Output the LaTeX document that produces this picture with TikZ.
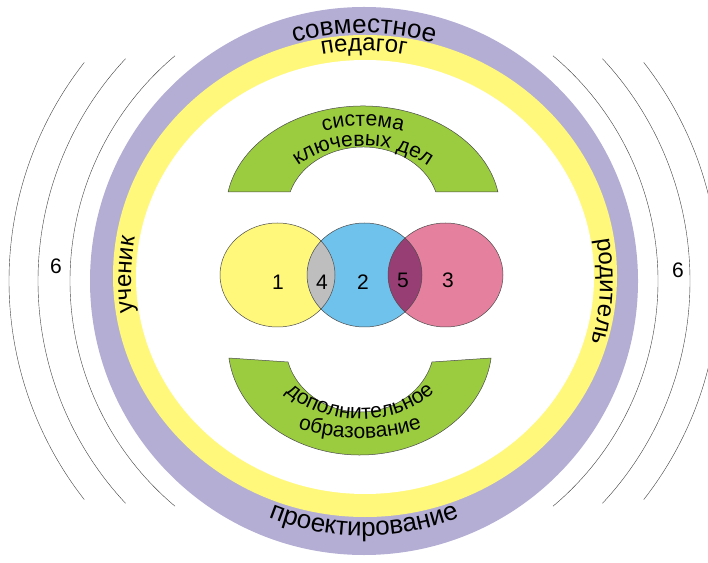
\documentclass[tikz,border=0pt]{standalone}
\usepackage{fontspec}
\setmainfont{Liberation Sans}
\usetikzlibrary{calc,decorations.text}
\definecolor{ringlilac}{HTML}{B4AED4}
\definecolor{ringyellow}{HTML}{FFF87A}
\definecolor{archgreen}{HTML}{9BCB3F}
\definecolor{vennblue}{HTML}{6FC2EC}
\definecolor{vennpink}{HTML}{E6809F}
\definecolor{venngray}{HTML}{BEBEBE}
\definecolor{vennplum}{HTML}{973F75}
\newcommand{\ringtxt}{\fontsize{26}{28}\selectfont}
\newcommand{\yellowtxt}{\fontsize{24}{26}\selectfont}
\newcommand{\archtxt}{\fontsize{21}{23}\selectfont}
\newcommand{\numtxt}{\fontsize{21}{23}\selectfont}

\begin{document}
\begin{tikzpicture}
[x=1pt,y=1pt,%
  every node/.style={inner sep=0pt,font=\numtxt},%
  wave/.style={draw=black!75,line width=0.4pt},%
  outline/.style={draw=black!70,line width=0.5pt},%
  ringcurved/.style={decorate,decoration={text along path,text align=center,text={|\ringtxt|#1}}},%
  yellowcurved/.style={decorate,decoration={text along path,text align=center,text={|\yellowtxt|#1}}},%
  archcurved/.style={decorate,decoration={text along path,text align=center,text={|\archtxt|#1}}}]
\useasboundingbox (0,0) rectangle (708,562);
\clip (0,0) rectangle (708,562);
\coordinate (mid) at (364,281);
\coordinate (top arch) at (363,352);
\coordinate (low arch) at (360,217);
\fill[ringlilac] (mid) circle[radius=274];
\fill[ringyellow] (365,286) ellipse[x radius=252,y radius=241];
\fill[white] (365,285) ellipse[x radius=229,y radius=217];
\foreach \r/\a in {294/50,326/43,355/38}{
  \draw[wave] (mid) ++(180-\a:\r) arc[start angle=180-\a,end angle=180+\a,radius=\r];
  \draw[wave] (mid) ++(-\a:\r) arc[start angle=-\a,end angle=\a,radius=\r];
}
\node (six left) at (56,296) {6};
\node (six right) at (678,292) {6};
\path[ringcurved=совместное] (mid) ++(125:248) arc[start angle=125,end angle=55,radius=248];
\path[yellowcurved=педагог] (mid) ++(120:230) arc[start angle=120,end angle=60,radius=230];
\path[ringcurved=проектирование] (mid) ++(220:255) arc[start angle=220,end angle=320,radius=255];
\path[yellowcurved=ученик] (mid) ++(203.5:233) arc[start angle=203.5,end angle=153.5,radius=233];
\path[yellowcurved=родитель] (mid) ++(25:236) arc[start angle=25,end angle=-30,radius=236];
\filldraw[outline,fill=archgreen] (top arch) ++(170:137 and 104)
  arc[start angle=170,end angle=10,x radius=137,y radius=104]
  -- ($(top arch)+(16.6:76 and 63)$)
  arc[start angle=16.6,end angle=163.4,x radius=76,y radius=63] -- cycle;
\filldraw[outline,fill=archgreen] (low arch) ++(186.8:132 and 110)
  arc[start angle=186.8,end angle=353.2,x radius=132,y radius=110]
  -- ($(low arch)+(345.3:74.4 and 67)$)
  arc[start angle=345.3,end angle=194.7,x radius=74.4,y radius=67] -- cycle;
\path[archcurved=система] (top arch) ++(160:112 and 84) arc[start angle=160,end angle=20,x radius=112,y radius=84];
\path[archcurved={ключевых дел}] (top arch) ++(180:90 and 64) arc[start angle=180,end angle=0,x radius=90,y radius=64];
\path[archcurved=дополнительное] (low arch) ++(180:97 and 74) arc[start angle=180,end angle=360,x radius=97,y radius=74];
\path[archcurved=образование] (low arch) ++(200:139 and 93) arc[start angle=200,end angle=340,x radius=139,y radius=93];
\coordinate (c1) at (277.5,287);
\coordinate (c2) at (364.5,287);
\coordinate (c3) at (445.5,287);
\fill[ringyellow] (c1) ellipse[x radius=57.5,y radius=52];
\fill[vennblue] (c2) ellipse[x radius=57.5,y radius=52];
\fill[vennpink] (c3) ellipse[x radius=57.5,y radius=52];
\begin{scope}
\clip (c1) ellipse[x radius=57.5,y radius=52];
\fill[venngray] (c2) ellipse[x radius=57.5,y radius=52];
\end{scope}
\begin{scope}
\clip (c2) ellipse[x radius=57.5,y radius=52];
\fill[vennplum] (c3) ellipse[x radius=57.5,y radius=52];
\end{scope}
\foreach \c in {c1,c2,c3}
  \draw[outline] (\c) ellipse[x radius=57.5,y radius=52];
\node (one) at (278,280) {1};
\node (four) at (322,280) {4};
\node (two) at (363,280) {2};
\node (five) at (403,282) {5};
\node (three) at (448,282) {3};
\end{tikzpicture}
\end{document}
